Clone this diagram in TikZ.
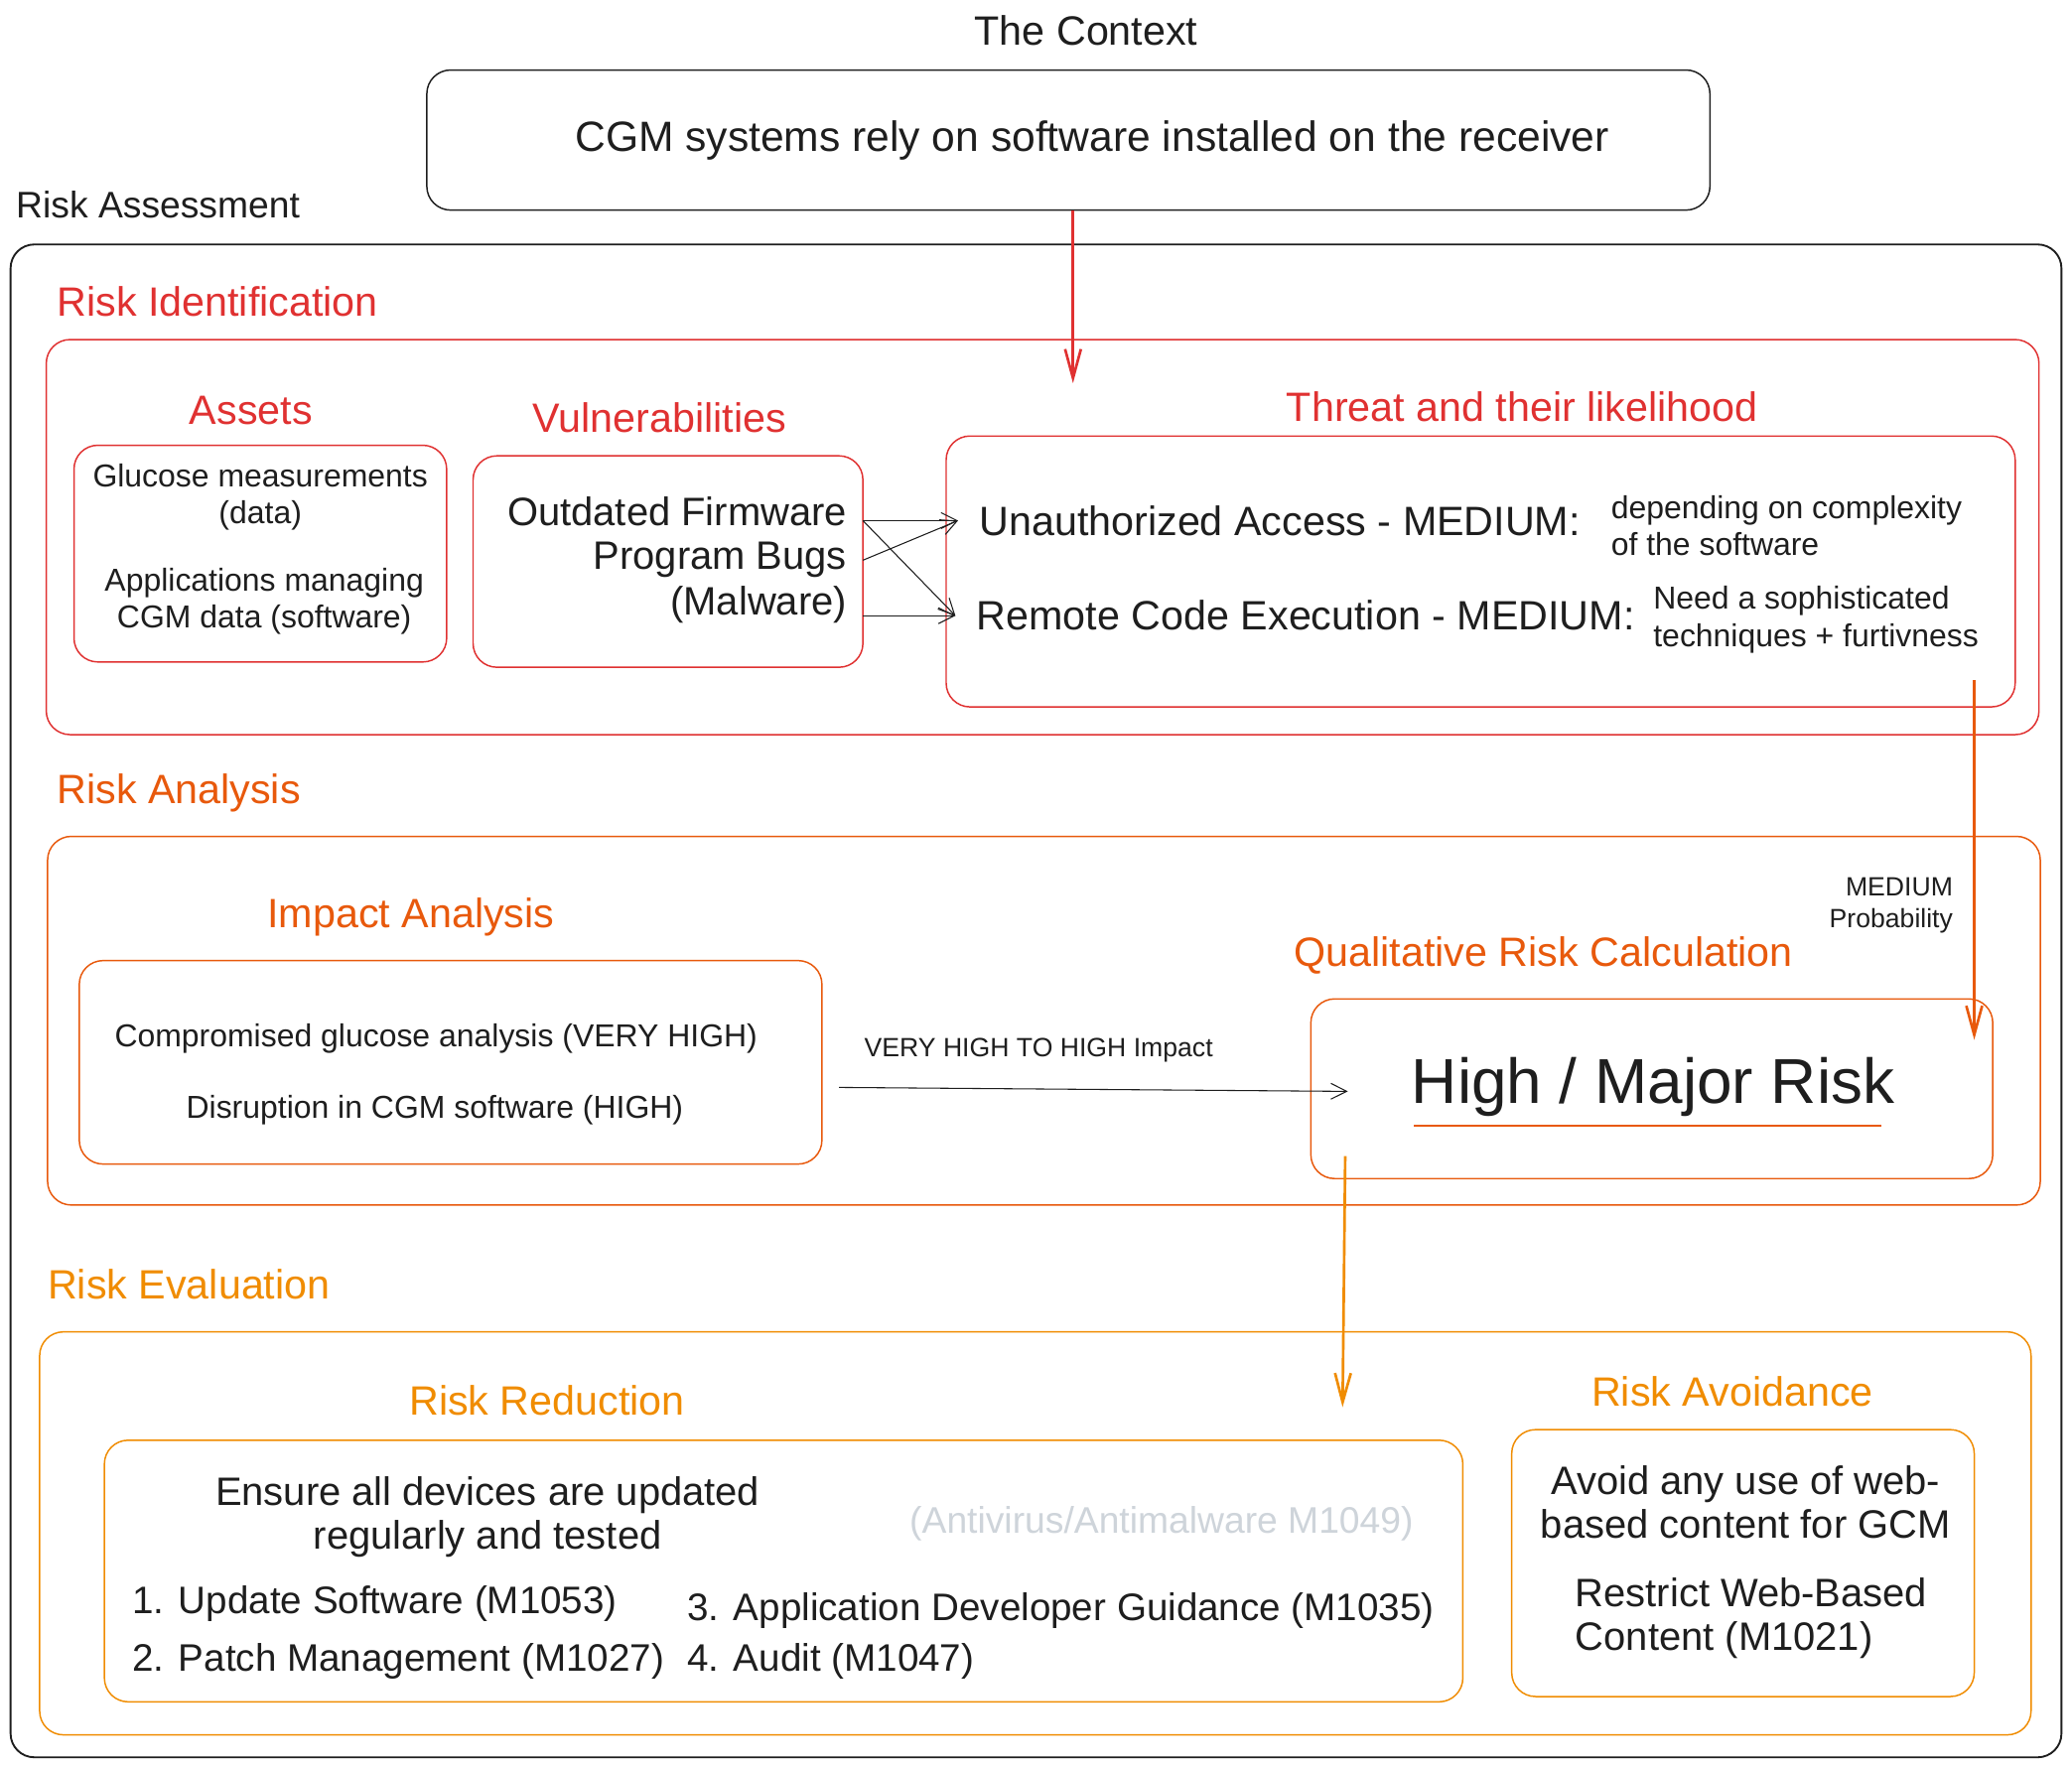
\documentclass[tikz,border=0pt]{standalone}
\usepackage{fontspec}
\setmainfont{Liberation Sans}
\usepackage{xcolor}
\usetikzlibrary{positioning,arrows.meta}
\definecolor{cred}{HTML}{E03131}
\definecolor{corg}{HTML}{E8590C}
\definecolor{cyel}{HTML}{F08C00}
\definecolor{cgry}{HTML}{CED4DA}
\definecolor{cblk}{HTML}{1E1E1E}
\tikzset{box/.style={draw,rounded corners=18pt,line width=1.1pt,inner sep=0pt},
  txt/.style={inner sep=0pt,text=cblk},
  f20/.style={font=\fontsize{20}{24}\selectfont},
  f24/.style={font=\fontsize{24}{28}\selectfont},
  f28/.style={font=\fontsize{28}{33}\selectfont},
  f29/.style={font=\fontsize{29}{33}\selectfont},
  f30/.style={font=\fontsize{30}{33}\selectfont},
  f31/.style={font=\fontsize{31}{36}\selectfont},
  f32/.style={font=\fontsize{32}{36}\selectfont},
  f48/.style={font=\fontsize{48}{56}\selectfont},
  arr/.style={->,line width=0.8pt,cblk,>={Straight Barb[length=12pt,width=12pt]}},
  carr/.style={->,line width=2pt,>={Straight Barb[length=22pt,width=12pt]}}}

\begin{document}
\begin{tikzpicture}[x=1pt,y=-1pt]
    \useasboundingbox[fill=white] (0,0) rectangle (1568,1338);
    % boxes
    \node[box,cblk,minimum width=971pt,minimum height=106pt,f32,text=cblk] (ctx) at (808.5,106) {\hspace*{36pt}CGM systems rely on software installed on the receiver};
    \node[box,cblk,line width=1.4pt,minimum width=1552pt,minimum height=1145pt] (ra) at (784,757.5) {};
    \node[box,cred,minimum width=1508pt,minimum height=299pt] (rid) at (789,406.5) {};
    \node[box,cred,minimum width=282pt,minimum height=164pt] (ast) at (197,419) {};
    \node[box,cred,minimum width=295pt,minimum height=160pt] (vul) at (505.5,425) {};
    \node[box,cred,minimum width=809pt,minimum height=205pt] (thr) at (1120.5,432.5) {};
    \node[box,corg,minimum width=1508pt,minimum height=279pt] (ran) at (790,772.5) {};
    \node[box,corg,minimum width=562pt,minimum height=154pt] (imp) at (341,804) {};
    \node[box,corg,minimum width=516pt,minimum height=136pt] (hr) at (1250,824) {};
    \node[box,cyel,minimum width=1507pt,minimum height=305pt] (rev) at (783.5,1160.5) {};
    \node[box,cyel,minimum width=1028pt,minimum height=198pt] (rrd) at (593,1189) {};
    \node[box,cyel,minimum width=350pt,minimum height=202pt] (avd) at (1319,1183) {};

    % titles
    \node[txt,f31] (tctx) at (822,23) {The Context};
    \node[txt,f28,anchor=west] (tra) at (12,155) {Risk Assessment};
    \node[txt,f31,text=cred,anchor=west] (trid) at (43,228) {Risk Identification};
    \node[txt,f31,text=cred] (tast) at (190,311) {Assets};
    \node[txt,f31,text=cred] (tvul) at (499,316) {Vulnerabilities};
    \node[txt,f31,text=cred] (tthr) at (1152,308) {Threat and their likelihood};
    \node[txt,f31,text=corg,anchor=west] (tran) at (43,600) {Risk Analysis};
    \node[txt,f31,text=corg] (timp) at (311,694) {Impact Analysis};
    \node[txt,f31,text=corg] (tqrc) at (1168,723) {Qualitative Risk Calculation};
    \node[txt,f31,text=cyel,anchor=west] (trev) at (36,972) {Risk Evaluation};
    \node[txt,f31,text=cyel] (trrd) at (414,1060) {Risk Reduction};
    \node[txt,f31,text=cyel] (tavd) at (1311,1053) {Risk Avoidance};

    % risk identification
    \node[txt,f24,align=center] (a1) at (197,376) {Glucose measurements\\(data)};
    \node[txt,f24,align=center] (a2) at (200,455) {Applications managing\\CGM data (software)};
    \node[txt,f30,anchor=east,inner xsep=12pt] (vf) at (653,387) {Outdated Firmware};
    \node[txt,f30,anchor=east,inner xsep=12pt] (vb) at (653,424) {Program Bugs};
    \node[txt,f30,anchor=east,inner xsep=12pt] (vm) at (653,458) {(Malware)};
    \node[txt,f31,anchor=west,inner xsep=16pt] (tua) at (725,394) {Unauthorized Access - MEDIUM:};
    \node[txt,f31,anchor=west,inner xsep=16pt] (trc) at (723,466) {Remote Code Execution - MEDIUM:};
    \node[txt,f24,anchor=west,align=left] (n1) at (1219,398) {depending on complexity\\of the software};
    \node[txt,f24,anchor=west,align=left] (n2) at (1251,469) {Need a sophisticated\\techniques + furtivness};

    % risk analysis
    \node[txt,f24] (i1) at (330,786) {Compromised glucose analysis (VERY HIGH)};
    \node[txt,f24] (i2) at (329,840) {Disruption in CGM software (HIGH)};
    \node[txt,f20] (lvh) at (786,795) {VERY HIGH TO HIGH Impact};
    \node[txt,f20,anchor=east,align=right] (lmp) at (1478,685) {MEDIUM\\Probability};
    \node[txt,f48] (hrt) at (1251,823) {High / Major Risk};
    \draw[corg,line width=1pt] (1070,852) -- (1424,852);

    % risk evaluation
    \node[txt,f30,align=center] (r0) at (369,1148) {Ensure all devices are updated\\regularly and tested};
    \node[txt,f28,text=cgry] (rav) at (879,1153) {(Antivirus/Antimalware M1049)};
    \node[txt,f29,anchor=west] (r1) at (100,1214) {1. Update Software (M1053)};
    \node[txt,f29,anchor=west] (r2) at (100,1257) {2. Patch Management (M1027)};
    \node[txt,f29,anchor=west] (r3) at (520,1219) {3. Application Developer Guidance (M1035)};
    \node[txt,f29,anchor=west] (r4) at (520,1257) {4. Audit (M1047)};
    \node[txt,f30,align=center] (v1) at (1321,1137) {Avoid any use of web-\\based content for GCM};
    \node[txt,f30,anchor=west,align=left] (v2) at (1192,1225) {Restrict Web-Based\\Content (M1021)};

    % connectors
    \coordinate (p1) at (812,290);
    \coordinate (q0) at (1494,515);
    \coordinate (q1) at (1494,787);
    \coordinate (s0) at (1018,875);
    \coordinate (s1) at (1016,1065);
    \coordinate (ia) at (635,823);
    \coordinate (ib) at (1020,826);

    \draw [carr,cred] (ctx.south -| p1) to []node[]{} (p1);
    \draw [arr] (vf.east |- tua) to []node[]{} (tua.west);
    \draw [arr] (vf.east |- tua) to []node[]{} (trc.west);
    \draw [arr] (vb.east) to []node[]{} (tua.west);
    \draw [arr] (vm.east |- trc) to []node[]{} (trc.west);
    \draw [carr,corg] (q0) to []node[]{} (q1);
    \draw [arr] (ia) to []node[]{} (ib);
    \draw [carr,cyel] (s0) to []node[]{} (s1);
\end{tikzpicture}
\end{document}
